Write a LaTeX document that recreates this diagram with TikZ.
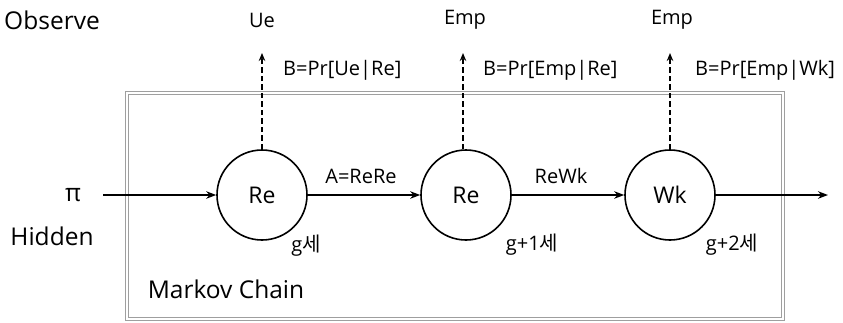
\documentclass[tikz,border=0pt]{standalone}
\usepackage{fontspec}
\setmainfont{Open Sans}
\newfontfamily\kr{Noto Sans CJK KR}
\usetikzlibrary{arrows.meta}
\begin{document}
\begin{tikzpicture}[x=1pt,y=-1pt,
  state/.style={draw,circle,line width=1.6pt,minimum size=90pt,inner sep=0pt,font=\fontsize{23}{26}\selectfont},
  big/.style={inner sep=0pt,font=\fontsize{24.5}{28}\selectfont},
  small/.style={inner sep=0pt,font=\fontsize{20}{23}\selectfont},
  flow/.style={line width=1.9pt,-{Stealth[length=10pt,width=7.5pt]}},
  emit/.style={line width=2pt,dash pattern=on 5.5pt off 3pt,-{Stealth[length=8pt,width=6.5pt]}}]
\useasboundingbox (0,0) rectangle (843,322);
% Markov chain frame
\draw[draw=gray!75,double=white,line width=1.1pt,double distance=1.6pt] (127,93) rectangle (783,319);
% hidden states
\node[state] (s1) at (262,195) {Re};
\node[state] (s2) at (466,195) {Re};
\node[state] (s3) at (670,195) {Wk};
% labels
\node[big] (obs) at (52,20) {Observe};
\node[big] (pi) at (73,195) {π};
\node[big] (hid) at (52,236) {Hidden};
\node[big] (mc) at (226,289) {Markov Chain};
\node[small] (o1) at (262,20) {Ue};
\node[small] (o2) at (465,20) {Emp};
\node[small] (o3) at (672,20) {Emp};
\node[small,anchor=west] (b1) at (283,70) {B=Pr[Ue|Re]};
\node[small,anchor=west] (b2) at (483,70) {B=Pr[Emp|Re]};
\node[small,anchor=west] (b3) at (695,70) {B=Pr[Emp|Wk]};
\node[small] (a1) at (361,176) {A=ReRe};
\node[small] (a2) at (561,176) {ReWk};
\node[small] (g1) at (306,246) {g{\kr 세}};
\node[small] (g2) at (532,245) {g+1{\kr 세}};
\node[small] (g3) at (732,245) {g+2{\kr 세}};
\coordinate (start) at (103,195);
\coordinate (end) at (828,195);
\coordinate (e1) at (262,53);
\coordinate (e2) at (463,53);
\coordinate (e3) at (670,53);
% transitions
\draw[flow] (start) -- (s1);
\draw[flow] (s1) -- (s2);
\draw[flow] (s2) -- (s3);
\draw[flow] (s3) -- (end);
% emissions
\draw[emit] (s1.north) -- (e1);
\draw[emit] (s2.north -| e2) -- (e2);
\draw[emit] (s3.north) -- (e3);
\end{tikzpicture}
\end{document}
